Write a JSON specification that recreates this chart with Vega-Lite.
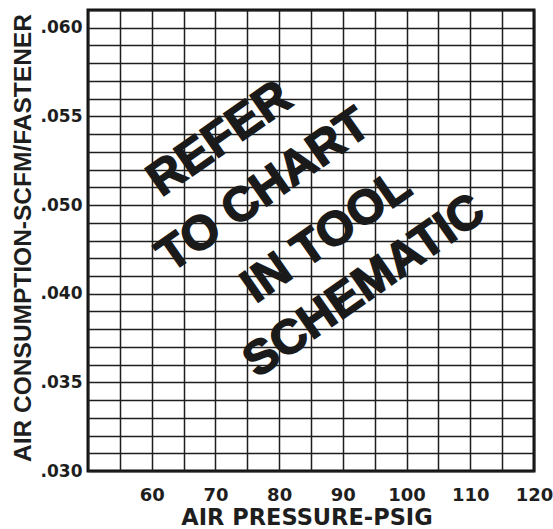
{
  "$schema": "https://vega.github.io/schema/vega-lite/v6.json",
  "width": 446,
  "height": 461,
  "autosize": {"type": "none"},
  "padding": {"left": 88, "top": 10, "right": 19, "bottom": 58},
  "background": "white",
  "config": {"view": {"stroke": "#111111", "strokeWidth": 3}},
  "data": {
    "values": [
      {"label": "REFER", "pressure": 70.7, "row": 18.7},
      {"label": "TO CHART", "pressure": 77.6, "row": 15.8},
      {"label": "IN TOOL", "pressure": 87.5, "row": 13.2},
      {"label": "SCHEMATIC", "pressure": 93.4, "row": 10.4}
    ]
  },
  "mark": {
    "type": "text",
    "font": "Liberation Sans",
    "fontWeight": "bold",
    "fontSize": 48,
    "angle": 325,
    "align": "center",
    "baseline": "middle",
    "color": "#1a1a1a",
    "stroke": "#1a1a1a",
    "strokeWidth": 1.5
  },
  "encoding": {
    "x": {
      "field": "pressure",
      "type": "quantitative",
      "scale": {"domain": [50, 120], "nice": false, "zero": false},
      "axis": {
        "title": "AIR PRESSURE-PSIG",
        "values": [50, 55, 60, 65, 70, 75, 80, 85, 90, 95, 100, 105, 110, 115, 120],
        "grid": true,
        "gridColor": "#1e1e1e",
        "gridWidth": 1.5,
        "gridOpacity": 1,
        "domain": false,
        "ticks": false,
        "tickSize": 0,
        "labelExpr": "datum.value >= 60 && datum.value % 10 == 0 ? datum.label : ''",
        "labelFont": "DejaVu Sans",
        "labelFontWeight": "bold",
        "labelFontSize": 18,
        "labelColor": "#1e1e1e",
        "labelPadding": 15,
        "labelFlush": false,
        "labelOverlap": false,
        "titleFont": "DejaVu Sans",
        "titleFontWeight": "bold",
        "titleFontSize": 22.5,
        "titleColor": "#1e1e1e",
        "titleX": 218.5,
        "titleY": 53,
        "titleBaseline": "alphabetic",
        "titleAlign": "center"
      }
    },
    "y": {
      "field": "row",
      "type": "quantitative",
      "scale": {"domain": [0, 26], "nice": false, "zero": false},
      "axis": {
        "title": "AIR CONSUMPTION-SCFM/FASTENER",
        "values": [0, 1, 2, 3, 4, 5, 6, 7, 8, 9, 10, 11, 12, 13, 14, 15, 16, 17, 18, 19, 20, 21, 22, 23, 24, 25, 26],
        "grid": true,
        "gridColor": "#1e1e1e",
        "gridWidth": 1.5,
        "gridOpacity": 1,
        "domain": false,
        "ticks": false,
        "tickSize": 0,
        "labelExpr": "datum.value == 0 ? '.030' : datum.value == 5 ? '.035' : datum.value == 10 ? '.040' : datum.value == 15 ? '.050' : datum.value == 20 ? '.055' : datum.value == 25 ? '.060' : ''",
        "labelFont": "DejaVu Sans",
        "labelFontWeight": "bold",
        "labelFontSize": 17,
        "labelColor": "#1e1e1e",
        "labelPadding": 6,
        "labelFlush": false,
        "labelOverlap": false,
        "titleFont": "Liberation Sans",
        "titleFontWeight": "bold",
        "titleFontSize": 24.5,
        "titleColor": "#1e1e1e",
        "titleX": -58,
        "titleY": 227.5,
        "titleAngle": 270,
        "titleBaseline": "alphabetic",
        "titleAlign": "center"
      }
    },
    "text": {"field": "label", "type": "nominal"}
  }
}
